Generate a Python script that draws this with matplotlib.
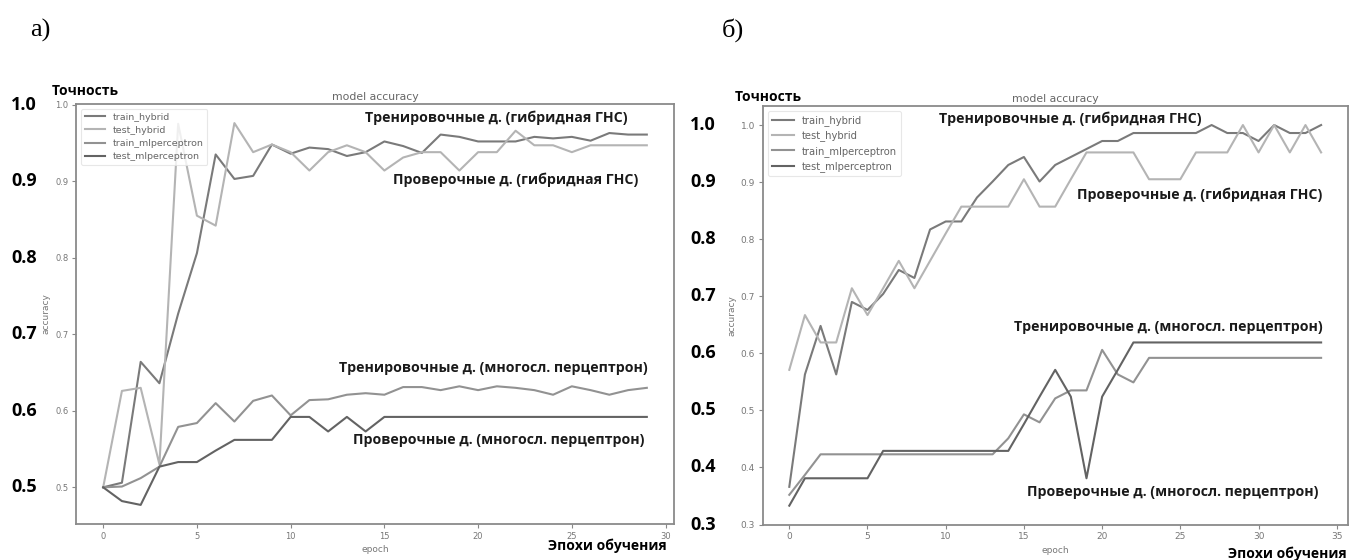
import numpy as np
import matplotlib.pyplot as plt
from matplotlib import transforms

W, H = 1349, 560

# ---- data, panel a) ----
epochs_a = np.arange(30)
train_hybrid_a = [0.5, 0.506, 0.664, 0.636, 0.727, 0.806, 0.935, 0.903, 0.907, 0.948,
                  0.936, 0.944, 0.942, 0.933, 0.938, 0.952, 0.946, 0.937, 0.961, 0.958,
                  0.952, 0.952, 0.952, 0.958, 0.956, 0.958, 0.953, 0.963, 0.961, 0.961]
test_hybrid_a = [0.5, 0.626, 0.630, 0.530, 0.975, 0.855, 0.842, 0.976, 0.938, 0.948,
                 0.938, 0.914, 0.938, 0.947, 0.938, 0.914, 0.931, 0.938, 0.938, 0.914,
                 0.938, 0.938, 0.966, 0.947, 0.947, 0.938, 0.947, 0.947, 0.947, 0.947]
train_mlp_a = [0.5, 0.501, 0.512, 0.527, 0.579, 0.584, 0.610, 0.586, 0.613, 0.620,
               0.594, 0.614, 0.615, 0.621, 0.623, 0.621, 0.631, 0.631, 0.627, 0.632,
               0.627, 0.632, 0.630, 0.627, 0.621, 0.632, 0.627, 0.621, 0.627, 0.630]
test_mlp_a = [0.5, 0.482, 0.477, 0.527, 0.533, 0.533, 0.548, 0.562, 0.562, 0.562,
              0.592, 0.592, 0.573, 0.592, 0.573, 0.592, 0.592, 0.592, 0.592, 0.592,
              0.592, 0.592, 0.592, 0.592, 0.592, 0.592, 0.592, 0.592, 0.592, 0.592]

# ---- data, panel б) ----
epochs_b = np.arange(35)
train_hybrid_b = [0.366, 0.563, 0.648, 0.563, 0.690, 0.676, 0.704, 0.746, 0.732, 0.817,
                  0.831, 0.831, 0.873, 0.901, 0.930, 0.944, 0.901, 0.930, 0.944, 0.958,
                  0.972, 0.972, 0.986, 0.986, 0.986, 0.986, 0.986, 1.0, 0.986, 0.986,
                  0.972, 1.0, 0.986, 0.986, 1.0]
test_hybrid_b = [0.571, 0.667, 0.619, 0.619, 0.714, 0.667, 0.714, 0.762, 0.714, 0.762,
                 0.810, 0.857, 0.857, 0.857, 0.857, 0.905, 0.857, 0.857, 0.905, 0.952,
                 0.952, 0.952, 0.952, 0.905, 0.905, 0.905, 0.952, 0.952, 0.952, 1.0,
                 0.952, 1.0, 0.952, 1.0, 0.952]
train_mlp_b = [0.352, 0.387, 0.423, 0.423, 0.423, 0.423, 0.423, 0.423, 0.423, 0.423,
               0.423, 0.423, 0.423, 0.423, 0.451, 0.493, 0.479, 0.521, 0.535, 0.535,
               0.606, 0.563, 0.549, 0.592, 0.592, 0.592, 0.592, 0.592, 0.592, 0.592,
               0.592, 0.592, 0.592, 0.592, 0.592]
test_mlp_b = [0.333, 0.381, 0.381, 0.381, 0.381, 0.381, 0.429, 0.429, 0.429, 0.429,
              0.429, 0.429, 0.429, 0.429, 0.429, 0.476, 0.524, 0.571, 0.524, 0.381,
              0.524, 0.571, 0.619, 0.619, 0.619, 0.619, 0.619, 0.619, 0.619, 0.619,
              0.619, 0.619, 0.619, 0.619, 0.619]

series_names = ['train_hybrid', 'test_hybrid', 'train_mlperceptron', 'test_mlperceptron']
colors = ['#7a7a7a', '#b4b4b4', '#929292', '#636363']

yticks_a = [0.5, 0.6, 0.7, 0.8, 0.9, 1.0]
yticks_b = [0.3, 0.4, 0.5, 0.6, 0.7, 0.8, 0.9, 1.0]

ann_font = ['Open Sans', 'DejaVu Sans']


def px(x, y):
    return x / W, 1 - y / H


fig = plt.figure(figsize=(W / 100, H / 100), dpi=100)
ax1 = fig.add_axes([76 / W, 1 - 524 / H, (674 - 76) / W, (524 - 104) / H])
ax2 = fig.add_axes([762.7 / W, 1 - 524.7 / H, (1347.7 - 762.7) / W, (524.7 - 106) / H])


def style(ax, epochs, data, xticks, yticks, legsize, ticksize):
    for vals, name, c in zip(data, series_names, colors):
        ax.plot(epochs, vals, color=c, lw=1.5, label=name)
    ax.set_xticks(xticks)
    ax.set_yticks(yticks)
    ax.tick_params(labelsize=ticksize, colors='#888888', labelcolor='#777777',
                   length=3, width=0.8, pad=2.5)
    for s in ax.spines.values():
        s.set_color('#8a8a8a')
        s.set_linewidth(1.3)
    ax.set_title('model accuracy', fontsize=7.8, color='#666666', pad=3)
    ax.set_xlabel('epoch', fontsize=6.5, color='#777777', labelpad=3)
    ax.set_ylabel('accuracy', fontsize=6.5, color='#777777', labelpad=3)
    leg = ax.legend(loc='upper left', fontsize=legsize, frameon=True,
                    handlelength=2.2, labelspacing=0.45, borderaxespad=0.5)
    leg.get_frame().set_edgecolor('#e2e2e2')
    leg.get_frame().set_linewidth(0.8)
    for t in leg.get_texts():
        t.set_color('#666666')


style(ax1, epochs_a, [train_hybrid_a, test_hybrid_a, train_mlp_a, test_mlp_a],
      [0, 5, 10, 15, 20, 25, 30], yticks_a, 6.8, 6)
style(ax2, epochs_b, [train_hybrid_b, test_hybrid_b, train_mlp_b, test_mlp_b],
      [0, 5, 10, 15, 20, 25, 30, 35], yticks_b, 7.2, 6.5)

# big bold tick labels drawn over the scan
tr1 = transforms.blended_transform_factory(fig.transFigure, ax1.transData)
for v in yticks_a:
    fig.text(24 / W, v, f'{v:.1f}', transform=tr1, ha='center', va='center',
             fontsize=13, fontweight='bold', family=ann_font)
tr2 = transforms.blended_transform_factory(fig.transFigure, ax2.transData)
for v in yticks_b:
    fig.text(703 / W, v, f'{v:.1f}', transform=tr2, ha='center', va='center',
             fontsize=13, fontweight='bold', family=ann_font)

# panel letters
fig.text(*px(40, 30), 'а)', ha='center', va='center', fontsize=19, family='Liberation Serif')
fig.text(*px(733, 30), 'б)', ha='center', va='center', fontsize=19, family='Liberation Serif')

# axis captions
fig.text(*px(85, 91), 'Точность', ha='center', va='center', fontsize=10,
         fontweight='bold', family=ann_font)
fig.text(*px(768, 97), 'Точность', ha='center', va='center', fontsize=10,
         fontweight='bold', family=ann_font)
fig.text(*px(607, 546), 'Эпохи обучения', ha='center', va='center', fontsize=10,
         fontweight='bold', family=ann_font)
fig.text(*px(1287, 554), 'Эпохи обучения', ha='center', va='center', fontsize=10,
         fontweight='bold', family=ann_font)

# curve annotations
notes_a = [('Тренировочные д. (гибридная ГНС)', 496, 118),
           ('Проверочные д. (гибридная ГНС)', 516, 180),
           ('Тренировочные д. (многосл. перцептрон)', 493, 368),
           ('Проверочные д. (многосл. перцептрон)', 499, 440)]
notes_b = [('Тренировочные д. (гибридная ГНС)', 1070, 119),
           ('Проверочные д. (гибридная ГНС)', 1200, 195),
           ('Тренировочные д. (многосл. перцептрон)', 1168, 327),
           ('Проверочные д. (многосл. перцептрон)', 1173, 492)]
for txt, x, y in notes_a + notes_b:
    fig.text(*px(x, y), txt, ha='center', va='center', fontsize=10.2,
             fontweight='bold', family=ann_font, color='#1a1a1a')

fig.savefig('out.png', dpi=100)
